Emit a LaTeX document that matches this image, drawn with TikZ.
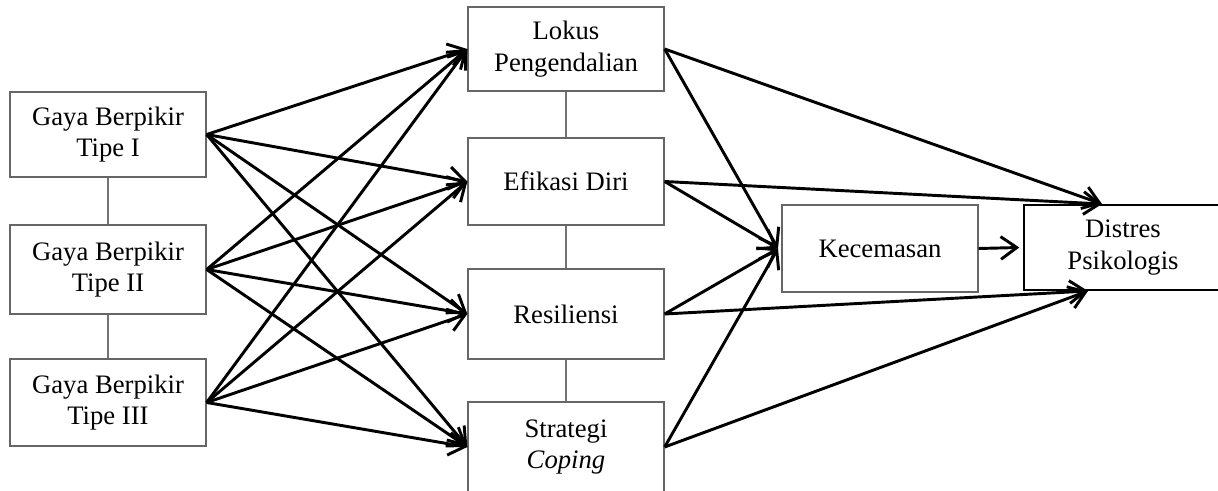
\documentclass[tikz,border=0pt]{standalone}
\usepackage{fontspec}
\setmainfont{Liberation Serif}
\usetikzlibrary{arrows.meta}
\begin{document}
\begin{tikzpicture}[x=0.75pt,y=-0.75pt,
  box/.style={draw=black!60, line width=1pt, inner sep=0pt, align=center,
    font=\fontsize{20}{23.5}\selectfont, minimum width=147pt},
  link/.style={draw=black!55, line width=1pt},
  arr/.style={draw=black, line width=2.2pt, -{Straight Barb[length=12pt,width=17pt,line width=2.2pt]}}]
\clip (0,0) rectangle (1218,491);
% left column
\node[box, minimum height=63.75pt] (g1) at (108,134.5) {Gaya Berpikir\\Tipe I};
\node[box, minimum height=66.75pt] (g2) at (108,269.5) {Gaya Berpikir\\Tipe II};
\node[box, minimum height=65.25pt] (g3) at (108,402.5) {Gaya Berpikir\\Tipe III};
% middle column
\node[box, minimum height=63pt] (lk) at (566,49) {Lokus\\Pengendalian};
\node[box, minimum height=65.25pt] (ed) at (566,181.5) {Efikasi Diri};
\node[box, minimum height=67.5pt] (rs) at (566,314) {Resiliensi};
\node[box, minimum height=67.5pt] (sc) at (566,447) {Strategi\\\textit{Coping}};
% right
\node[box, minimum height=65.25pt] (kc) at (880,248.5) {Kecemasan};
\node[box, draw=black, minimum width=148.5pt, minimum height=63.75pt] (dp) at (1123,247.5) {Distres\\Psikologis};
% thin links
\draw[link] (g1.south) -- (g2.north);
\draw[link] (g2.south) -- (g3.north);
\draw[link] (lk.south) -- (ed.north);
\draw[link] (ed.south) -- (rs.north);
\draw[link] (rs.south) -- (sc.north);
% targets
\coordinate (kin) at ([xshift=-2.5pt]kc.west);
\coordinate (dtop) at (1102,204);
\coordinate (dbot) at (1088,291);
% left to middle
\foreach \s in {g1,g2,g3}{
  \foreach \t in {lk,ed,rs,sc}{
    \draw[arr] (\s.east) -- (\t.west);
  }
}
% middle to right
\foreach \t in {lk,ed,rs,sc}{
  \draw[arr] (\t.east) -- (kin);
}
\draw[arr] (lk.east) -- (dtop);
\draw[arr] (ed.east) -- (dtop);
\draw[arr] (rs.east) -- (dbot);
\draw[arr] (sc.east) -- (dbot);
\draw[arr] (kc.east) -- ([xshift=-3pt]dp.west);
\end{tikzpicture}
\end{document}
